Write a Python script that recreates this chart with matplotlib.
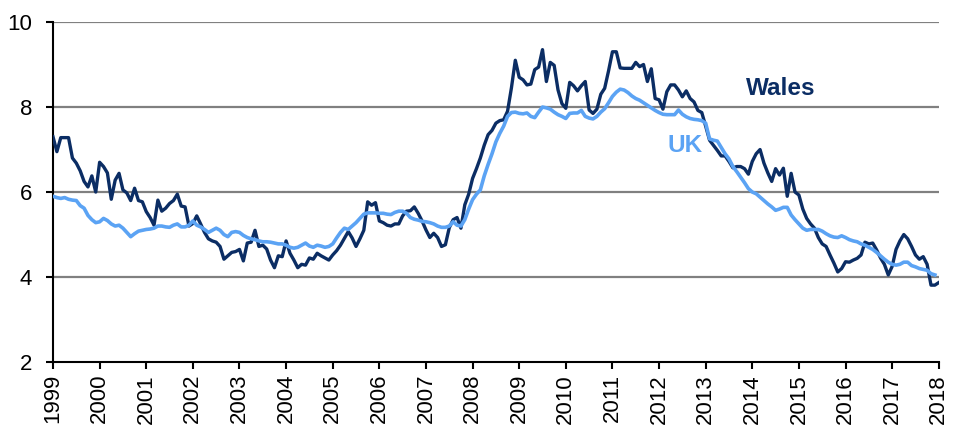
import numpy as np
import matplotlib.pyplot as plt

plt.rcParams['font.family'] = ['Liberation Sans', 'DejaVu Sans']

# monthly values, Jan 1999 onwards (one row per year)
wales = [
    7.30, 6.95, 7.28, 7.28, 7.28, 6.80, 6.68, 6.50, 6.25, 6.12, 6.38, 6.00,
    6.70, 6.60, 6.45, 5.83, 6.28, 6.44, 6.05, 5.98, 5.80, 6.09, 5.80, 5.77,
    5.54, 5.40, 5.22, 5.81, 5.55, 5.62, 5.73, 5.80, 5.95, 5.67, 5.65, 5.20,
    5.26, 5.44, 5.25, 5.05, 4.90, 4.85, 4.82, 4.72, 4.42, 4.50, 4.58, 4.60,
    4.65, 4.38, 4.80, 4.82, 5.10, 4.72, 4.75, 4.66, 4.40, 4.22, 4.50, 4.48,
    4.85, 4.56, 4.40, 4.22, 4.30, 4.28, 4.45, 4.42, 4.56, 4.50, 4.45, 4.40,
    4.52, 4.62, 4.75, 4.91, 5.07, 4.92, 4.72, 4.90, 5.10, 5.77, 5.69, 5.75,
    5.32, 5.28, 5.22, 5.20, 5.25, 5.25, 5.44, 5.55, 5.56, 5.65, 5.50, 5.32,
    5.11, 4.93, 5.03, 4.93, 4.72, 4.76, 5.16, 5.35, 5.40, 5.15, 5.70, 5.95,
    6.32, 6.55, 6.80, 7.10, 7.35, 7.45, 7.62, 7.68, 7.70, 7.90, 8.45, 9.10,
    8.70, 8.64, 8.52, 8.54, 8.88, 8.94, 9.35, 8.60, 9.05, 8.98, 8.40, 8.08,
    7.97, 8.58, 8.50, 8.38, 8.50, 8.60, 7.93, 7.85, 7.95, 8.30, 8.44, 8.85,
    9.30, 9.30, 8.92, 8.91, 8.91, 8.91, 9.05, 8.95, 9.00, 8.60, 8.90, 8.20,
    8.17, 7.95, 8.36, 8.52, 8.52, 8.40, 8.24, 8.38, 8.20, 8.12, 7.92, 7.87,
    7.55, 7.22, 7.10, 6.98, 6.85, 6.85, 6.72, 6.57, 6.60, 6.60, 6.55, 6.42,
    6.72, 6.90, 7.00, 6.68, 6.45, 6.25, 6.55, 6.40, 6.56, 5.90, 6.44, 6.00,
    5.93, 5.60, 5.38, 5.25, 5.15, 4.93, 4.78, 4.72, 4.52, 4.33, 4.12, 4.20,
    4.36, 4.35, 4.40, 4.44, 4.52, 4.82, 4.78, 4.80, 4.64, 4.45, 4.30, 4.05,
    4.25, 4.65, 4.85, 5.00, 4.90, 4.72, 4.52, 4.42, 4.48, 4.30, 3.81, 3.81,
    3.87,
]

uk = [
    5.90, 5.87, 5.85, 5.87, 5.83, 5.81, 5.80, 5.68, 5.62, 5.45, 5.35, 5.28,
    5.30, 5.38, 5.33, 5.25, 5.20, 5.22, 5.15, 5.05, 4.95, 5.02, 5.08, 5.10,
    5.12, 5.13, 5.15, 5.20, 5.20, 5.18, 5.17, 5.22, 5.25, 5.18, 5.18, 5.22,
    5.32, 5.22, 5.18, 5.12, 5.05, 5.10, 5.15, 5.10, 5.00, 4.95, 5.05, 5.07,
    5.05, 4.98, 4.93, 4.90, 4.88, 4.85, 4.83, 4.83, 4.82, 4.80, 4.78, 4.78,
    4.75, 4.70, 4.68, 4.70, 4.75, 4.80, 4.73, 4.70, 4.75, 4.73, 4.70, 4.72,
    4.78, 4.92, 5.05, 5.15, 5.12, 5.20, 5.28, 5.38, 5.48, 5.51, 5.51, 5.51,
    5.50, 5.50, 5.48, 5.47, 5.52, 5.55, 5.55, 5.50, 5.40, 5.36, 5.34, 5.31,
    5.30, 5.28, 5.25, 5.20, 5.17, 5.17, 5.20, 5.30, 5.22, 5.20, 5.35, 5.60,
    5.82, 5.95, 6.05, 6.38, 6.65, 6.90, 7.18, 7.38, 7.55, 7.78, 7.87, 7.88,
    7.85, 7.84, 7.86, 7.78, 7.75, 7.88, 8.00, 7.98, 7.95, 7.88, 7.82, 7.78,
    7.73, 7.85, 7.86, 7.86, 7.92, 7.78, 7.74, 7.72, 7.78, 7.88, 7.96, 8.10,
    8.25, 8.35, 8.42, 8.40, 8.34, 8.26, 8.20, 8.16, 8.10, 8.04, 7.98, 7.92,
    7.87, 7.83, 7.82, 7.82, 7.82, 7.93, 7.83, 7.77, 7.73, 7.71, 7.70, 7.68,
    7.62, 7.25, 7.22, 7.20, 7.05, 6.90, 6.78, 6.60, 6.48, 6.35, 6.22, 6.08,
    6.00, 5.96, 5.88, 5.80, 5.72, 5.65, 5.57, 5.60, 5.64, 5.64, 5.46, 5.35,
    5.25, 5.15, 5.10, 5.12, 5.12, 5.12, 5.08, 5.02, 4.97, 4.94, 4.93, 4.97,
    4.93, 4.88, 4.85, 4.83, 4.78, 4.75, 4.70, 4.65, 4.58, 4.50, 4.42, 4.35,
    4.30, 4.28, 4.30, 4.35, 4.35, 4.27, 4.24, 4.20, 4.18, 4.16, 4.08, 4.05,
]

years = list(range(1999, 2019))

x_wales = 1999 + np.arange(len(wales)) / 12
x_uk = 1999 + np.arange(len(uk)) / 12

fig = plt.figure(figsize=(9.55, 4.29), dpi=100)
ax = fig.add_axes([0.0555, 0.156, 0.9275, 0.7927])

for v in [4, 6, 8, 10]:
    ax.axhline(v, color='#808080', lw=1.6, zorder=1)

ax.plot(x_wales, wales, color='#0B2D64', lw=2.4, zorder=3)
ax.plot(x_uk, uk, color='#5BA3F4', lw=2.6, zorder=4)

ax.text(2014.62, 8.43, 'Wales', color='#0B2D64', fontsize=17.5, fontweight='bold',
        ha='center', va='center')
ax.text(2012.55, 7.1, 'UK', color='#5BA3F4', fontsize=17.5, fontweight='bold',
        ha='center', va='center')

ax.set_xlim(1999, 2018)
ax.set_ylim(2, 10)
ax.set_yticks([2, 4, 6, 8, 10])
ax.set_xticks(years)
ax.set_xticklabels([str(y) for y in years], rotation=90)
ax.tick_params(axis='both', labelsize=16, width=1.5, length=5, color='black')
ax.tick_params(axis='y', pad=10)

for s in ['top', 'right']:
    ax.spines[s].set_visible(False)
for s in ['left', 'bottom']:
    ax.spines[s].set_linewidth(1.5)

fig.savefig('out.png', dpi=100)
